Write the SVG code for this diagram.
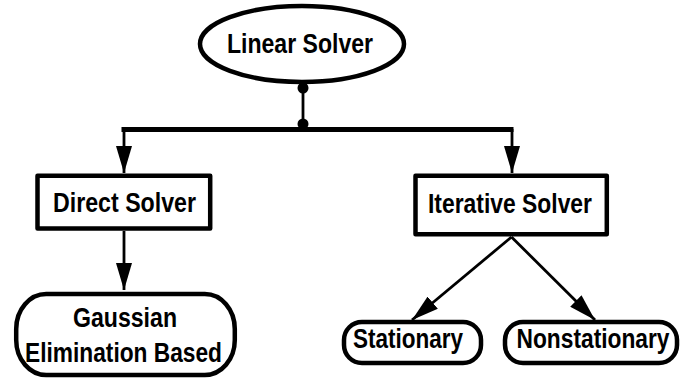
<svg xmlns="http://www.w3.org/2000/svg" width="681" height="380" viewBox="0 0 681 380">
  <style>
    .shape { fill: #ffffff; stroke: #000000; stroke-width: 4.5; stroke-linejoin: round; }
    .label { font-family: "Liberation Sans", Arial, sans-serif; font-weight: bold; font-size: 28px; fill: #000000; text-anchor: middle; }
    .wire { fill: none; stroke: #000000; stroke-width: 2.8; }
    .bus { fill: none; stroke: #000000; stroke-width: 5; }
  </style>
  <defs>
    <marker id="arrow" markerUnits="userSpaceOnUse" markerWidth="27" markerHeight="16" refX="27" refY="8" orient="auto">
      <path d="M0,0 L27,8 L0,16 z" fill="#000000"/>
    </marker>
  </defs>

  <!-- connectors -->
  <g id="connectors">
    <line class="wire" x1="303" y1="88" x2="303" y2="124"/>
    <circle cx="303" cy="88" r="5.5" fill="#000000"/>
    <circle cx="303" cy="124" r="5.5" fill="#000000"/>
    <path class="bus" d="M121.5,129.5 H513.5"/>
    <line class="wire" x1="124" y1="129" x2="124" y2="173" marker-end="url(#arrow)"/>
    <line class="wire" x1="512" y1="129" x2="512" y2="173" marker-end="url(#arrow)"/>
    <line class="wire" x1="124" y1="231" x2="124" y2="290" marker-end="url(#arrow)"/>
    <line class="wire" x1="511.5" y1="237" x2="412" y2="320" marker-end="url(#arrow)"/>
    <line class="wire" x1="511.5" y1="237" x2="595" y2="320" marker-end="url(#arrow)"/>
  </g>

  <!-- root -->
  <g id="linear-solver">
    <ellipse class="shape" cx="302" cy="44" rx="102" ry="38"/>
    <text class="label" x="300" y="53" textLength="146" lengthAdjust="spacingAndGlyphs">Linear Solver</text>
  </g>

  <g id="direct-solver">
    <rect class="shape" x="37.5" y="175.8" width="172.7" height="52.7"/>
    <text class="label" x="124.5" y="211.5" textLength="143" lengthAdjust="spacingAndGlyphs">Direct Solver</text>
  </g>

  <g id="iterative-solver">
    <rect class="shape" x="415.5" y="175.8" width="191.3" height="58.4"/>
    <text class="label" x="510" y="213" textLength="164" lengthAdjust="spacingAndGlyphs">Iterative Solver</text>
  </g>

  <g id="gaussian">
    <rect class="shape" x="16.2" y="294" width="218.6" height="81" rx="30" ry="35"/>
    <text class="label" x="125" y="327" textLength="104" lengthAdjust="spacingAndGlyphs">Gaussian</text>
    <text class="label" x="123.5" y="362" textLength="197" lengthAdjust="spacingAndGlyphs">Elimination Based</text>
  </g>

  <g id="stationary">
    <rect class="shape" x="344" y="322" width="137" height="41" rx="18" ry="18"/>
    <text class="label" x="408" y="348" textLength="110" lengthAdjust="spacingAndGlyphs">Stationary</text>
  </g>

  <g id="nonstationary">
    <rect class="shape" x="505" y="322" width="172" height="41" rx="18" ry="18"/>
    <text class="label" x="593" y="348" textLength="153" lengthAdjust="spacingAndGlyphs">Nonstationary</text>
  </g>
</svg>
